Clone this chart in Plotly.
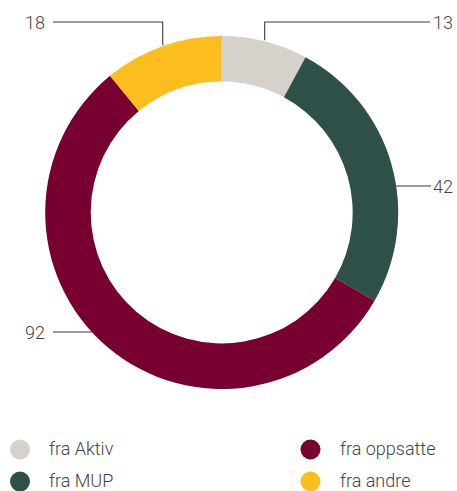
import math
import plotly.graph_objects as go

W, H = 457, 491

labels = ["fra Aktiv", "fra MUP", "fra oppsatte", "fra andre"]
values = [13, 42, 92, 18]
colors = ["#D6D1CA", "#2F5049", "#770031", "#FBBE1E"]

# geometry (pixels)
cx, cy, R = 221.7, 212.5, 176.5
hole = 0.742

def px(x):
    return x / W

def py(y):
    return 1 - y / H

fig = go.Figure()
fig.add_trace(go.Pie(
    labels=labels, values=values, sort=False, direction="clockwise", rotation=0,
    hole=hole, textinfo="none", showlegend=False,
    marker=dict(colors=colors, line=dict(width=0)),
    domain=dict(x=[px(cx - R), px(cx + R)], y=[py(cy + R), py(cy - R)]),
))

font = dict(family="Roboto", size=18, color="#444444", weight=300)
line = dict(color="#3a3a3a", width=1.1)

total = sum(values)
cum = 0
mids = []
for v in values:
    mids.append((cum + v / 2) / total * 2 * math.pi)
    cum += v

def ring_point(a, r=R):
    return cx + r * math.sin(a), cy - r * math.cos(a)

shapes = []
annotations = []

def add_label(i, ly, side, end_x):
    if side == 'r':
        annotations.append(dict(text=str(values[i]), x=px(455), y=py(ly), xanchor="right",
                                yanchor="middle", showarrow=False, font=font,
                                xref="paper", yref="paper"))
    else:
        annotations.append(dict(text=str(values[i]), x=px(end_x - 6), y=py(ly), xanchor="right",
                                yanchor="middle", showarrow=False, font=font,
                                xref="paper", yref="paper"))

def elbow(i, ly, side, end_x):
    x0, y0 = ring_point(mids[i], R - 1)
    shapes.append(dict(type="path", xref="paper", yref="paper", line=line,
                       path=f"M {px(x0)},{py(y0 - 2)} L {px(x0)},{py(ly)} L {px(end_x)},{py(ly)}"))
    add_label(i, ly, side, end_x)

def straight(i, ly, side, end_x):
    dy = ly - cy
    dx = math.sqrt(R * R - dy * dy)
    x0 = cx + dx if side == 'r' else cx - dx
    shapes.append(dict(type="line", xref="paper", yref="paper", line=line,
                       x0=px(x0), y0=py(ly), x1=px(end_x), y1=py(ly)))
    add_label(i, ly, side, end_x)

elbow(0, 22, 'r', 430)
straight(1, 186, 'r', 431)
straight(2, 332, 'l', 53)
elbow(3, 22, 'l', 53)

# custom legend with circular markers, two columns
leg_pos = [(20, 449.5), (20, 481.5), (310.5, 449.5), (310.5, 481.5)]
for (lx, ly), lab, col in zip(leg_pos, labels, colors):
    r = 10
    shapes.append(dict(type="circle", xref="paper", yref="paper",
                       x0=px(lx - r), x1=px(lx + r), y0=py(ly + r), y1=py(ly - r),
                       fillcolor=col, line=dict(width=0)))
    annotations.append(dict(text=lab, x=px(lx + 27), y=py(ly - 1), xanchor="left", yanchor="middle",
                            showarrow=False, font=font, xref="paper", yref="paper"))

fig.update_layout(
    width=W, height=H, margin=dict(l=0, r=0, t=0, b=0),
    paper_bgcolor="white", plot_bgcolor="white",
    shapes=shapes, annotations=annotations,
)

fig.write_html("out.html")
